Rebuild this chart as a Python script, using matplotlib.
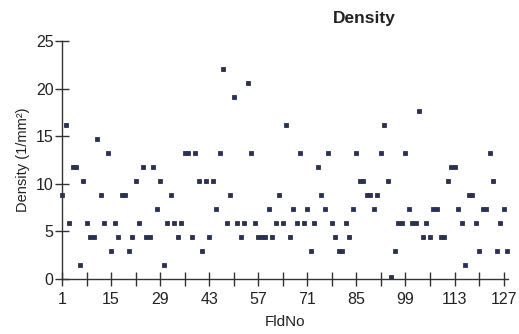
import numpy as np
import matplotlib
matplotlib.use("Agg")
import matplotlib.pyplot as plt
from matplotlib.ticker import MultipleLocator, FixedLocator

plt.rcParams['font.family'] = ['Liberation Sans', 'DejaVu Sans']

# field numbers and measured densities (1/mm^2)
fld_no = list(range(1, 129))
density = [
    8.82, 16.18, 5.88, 11.76, 11.76, 1.47, 10.29, 5.88, 4.41, 4.41,     # 1-10
    14.71, 8.82, 5.88, 13.24, 2.94, 5.88, 4.41, 8.82, 8.82, 2.94,       # 11-20
    4.41, 10.29, 5.88, 11.76, 4.41, 4.41, 11.76, 7.35, 10.29, 1.47,     # 21-30
    5.88, 8.82, 5.88, 4.41, 5.88, 13.24, 13.24, 4.41, 13.24, 10.29,     # 31-40
    2.94, 10.29, 4.41, 10.29, 7.35, 13.24, 22.06, 5.88, 8.82, 19.12,    # 41-50
    5.88, 4.41, 5.88, 20.59, 13.24, 5.88, 4.41, 4.41, 4.41, 7.35,       # 51-60
    4.41, 5.88, 8.82, 5.88, 16.18, 4.41, 7.35, 5.88, 13.24, 5.88,       # 61-70
    7.35, 2.94, 5.88, 11.76, 8.82, 7.35, 13.24, 5.88, 4.41, 2.94,       # 71-80
    2.94, 5.88, 4.41, 7.35, 13.24, 10.29, 10.29, 8.82, 8.82, 7.35,      # 81-90
    8.82, 13.24, 16.18, 10.29, 0.2, 2.94, 5.88, 5.88, 13.24, 7.35,      # 91-100
    5.88, 5.88, 17.65, 4.41, 5.88, 4.41, 7.35, 7.35, 4.41, 4.41,        # 101-110
    10.29, 11.76, 11.76, 7.35, 5.88, 1.47, 8.82, 8.82, 5.88, 2.94,      # 111-120
    7.35, 7.35, 13.24, 10.29, 2.94, 5.88, 7.35, 2.94,                   # 121-128
]
x_ticks = [1, 15, 29, 43, 57, 71, 85, 99, 113, 127]
y_ticks = [0, 5, 10, 15, 20, 25]

fig = plt.figure(figsize=(5.19, 3.34), dpi=100)
ax = fig.add_axes([62 / 519, 55 / 334, 446.5 / 519, 238 / 334])

ax.plot(fld_no, density, linestyle='none', marker='s', markersize=3.0,
        markerfacecolor='#24306a', markeredgecolor='#333333',
        markeredgewidth=0.6, clip_on=False, zorder=3)

ax.set_xlim(1, 128.4)
ax.set_ylim(0, 25)
ax.xaxis.set_major_locator(FixedLocator(x_ticks))
ax.xaxis.set_minor_locator(FixedLocator(list(range(8, 128, 14))))
ax.yaxis.set_major_locator(FixedLocator(y_ticks))

for side in ('top', 'right'):
    ax.spines[side].set_visible(False)
for side in ('left', 'bottom'):
    ax.spines[side].set_color('#333333')
    ax.spines[side].set_linewidth(1.0)

ax.tick_params(axis='both', which='both', direction='inout', length=10,
               width=1.0, color='#333333', labelsize=11.5, labelcolor='#222222')
ax.tick_params(axis='x', which='both', pad=4)
ax.tick_params(axis='y', pad=1)

ax.set_xlabel('FldNo', fontsize=11, color='#222222', labelpad=6)
ax.set_ylabel('Density (1/mm²)', fontsize=10.5, color='#222222', labelpad=4)
fig.text(364 / 519, 1 - 18 / 334, 'Density', ha='center', va='center',
         fontsize=12.5, fontweight='bold', color='#222222')

fig.savefig('out.png', dpi=100)
